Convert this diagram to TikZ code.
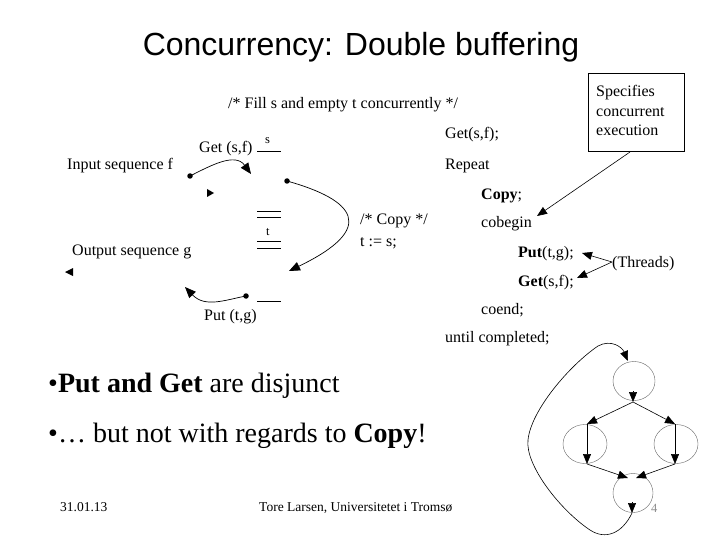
\documentclass[tikz,border=0pt]{standalone}
\usepackage{fontspec}
\setmainfont{Liberation Serif}
\newfontfamily\titlefont{Liberation Sans}
\usetikzlibrary{arrows.meta,shapes.geometric}
\begin{document}
\begin{tikzpicture}[x=1pt,y=-1pt,
  txt/.style={anchor=base west,inner sep=0pt,font=\fontsize{16}{19}\selectfont},
  small/.style={anchor=base west,inner sep=0pt,font=\fontsize{12.5}{15}\selectfont},
  big/.style={anchor=base west,inner sep=0pt,font=\fontsize{28}{32}\selectfont},
  foot/.style={anchor=base west,inner sep=0pt,font=\fontsize{13.5}{16}\selectfont},
  arr/.style={-{Triangle[length=11pt,width=9pt]},line width=0.7pt},
  sarr/.style={-{Triangle[length=10pt,width=8pt]},line width=0.6pt},
  buf/.style={line width=0.8pt},
  blob/.style={circle,fill=black,inner sep=0pt,minimum size=5.5pt},
  proc/.style={ellipse,draw=black!60,line width=0.4pt}
]
\useasboundingbox (0,0) rectangle (720,540);
% title
\node[anchor=base,inner sep=0pt,font=\titlefont\fontsize{32}{36}\selectfont] (title) at (361,56) {Concurrency: Double buffering};

% left diagram texts
\node[txt] (fill) at (228,109) {/* Fill s and empty t concurrently */};
\node[txt] (getl) at (199,153) {Get (s,f)};
\node[small] (slab) at (265,144) {s};
\node[txt] (inp) at (67,170) {Input sequence f};
\node[txt] (copyc) at (360,225) {/* Copy */};
\node[txt] (tass) at (360,246) {t := s;};
\node[small] (tlab) at (266,236) {t};
\node[txt] (outp) at (72,255) {Output sequence g};
\node[txt] (putl) at (204,320) {Put (t,g)};

% buffers
\draw[buf] (257,151) -- (281,151);
\draw[buf] (257,211) -- (281,211);
\draw[buf] (257,217) -- (281,217);
\draw[buf] (257,241) -- (281,241);
\draw[buf] (257,248) -- (281,248);
\draw[buf] (257,301) -- (281,301);

% connectors
\node[blob] (d1) at (190,176) {};
\coordinate (e1) at (251,174);
\draw[arr] (d1.center) .. controls (210,166) and (235,152) .. (e1);
\node[blob] (d2) at (287,181) {};
\coordinate (e2) at (289,271);
\draw[arr] (d2.center) .. controls (355,200) and (378,228) .. (e2);
\node[blob] (d3) at (246,296) {};
\coordinate (e3) at (185,287);
\draw[arr] (d3.center) .. controls (225,300) and (205,308) .. (e3);
\fill (207,189) -- (214,193) -- (207,197) -- cycle;
\fill (73,268) -- (65,272) -- (73,276) -- cycle;

% code
\node[txt] (c1) at (445,139) {Get(s,f);};
\node[txt] (c2) at (445,170) {Repeat};
\node[txt] (c3) at (481,200) {\textbf{Copy};};
\node[txt] (c4) at (481,227) {cobegin};
\node[txt] (c5) at (518,257) {\textbf{Put}(t,g);};
\node[txt] (c6) at (518,286) {\textbf{Get}(s,f);};
\node[txt] (c7) at (481,314) {coend;};
\node[txt] (c8) at (445,342) {until completed;};

% specifies box
\node[draw,line width=0.8pt,minimum width=96pt,minimum height=78pt,inner sep=0pt] (spec) at (636,112) {};
\node[txt] (st1) at (596,97) {Specifies};
\node[txt] (st2) at (596,117) {concurrent};
\node[txt] (st3) at (596,136) {execution};
\coordinate (sp0) at (630,152);
\coordinate (sp1) at (537,216);
\draw[sarr] (sp0) -- (sp1);

% threads
\node[txt] (thr) at (612,267) {(Threads)};
\coordinate (th0) at (612,262);
\coordinate (th1) at (582,253);
\coordinate (th2) at (577,278);
\draw[sarr] (th0) -- (th1);
\draw[sarr] (th0) -- (th2);

% bullets
\node[big] (b1) at (48,392) {•\textbf{Put and Get} are disjunct};
\node[big] (b2) at (48,442) {•… but not with regards to \textbf{Copy}!};

% footer
\node[foot] (date) at (60,511) {31.01.13};
\node[foot] (auth) at (259,511) {Tore Larsen, Universitetet i Tromsø};
\node[anchor=base west,inner sep=0pt,font=\fontsize{12.5}{14}\selectfont,text=black!45] (pg) at (651,512) {4};

% process graph
\node[proc,minimum width=42pt,minimum height=39pt] (pa) at (634,381) {};
\node[proc,minimum width=44pt,minimum height=39pt] (pb) at (585,444) {};
\node[proc,minimum width=44pt,minimum height=39pt] (pc) at (676,444) {};
\node[proc,minimum width=40pt,minimum height=39pt] (pd) at (633,493) {};
\coordinate (pa1) at (633,391);
\coordinate (pa2) at (633,402);
\draw[sarr] (pa1) -- (pa2);
\coordinate (pb0) at (587,424);
\coordinate (pb1) at (587,464);
\coordinate (pc0) at (675,424);
\coordinate (pc1) at (675,464);
\draw[sarr] (pa2) -- (pb0);
\draw[sarr] (pa2) -- (pc0);
\draw[sarr] (pb0) -- (pb1);
\draw[sarr] (pc0) -- (pc1);
\coordinate (pd0) at (628,478);
\coordinate (pd1) at (636,478);
\draw[sarr] (pb1) -- (pd0);
\draw[sarr] (pc1) -- (pd1);
\coordinate (pd2) at (632,502);
\coordinate (pd3) at (632,513);
\draw[sarr] (pd2) -- (pd3);
\coordinate (pa0) at (628,361);
\draw[sarr] (pd3) .. controls (622,534) and (605,540) .. (590,530) .. controls (560,510) and (525,465) .. (528,440) .. controls (531,410) and (570,365) .. (598,346) .. controls (611,339) and (622,347) .. (pa0);
\end{tikzpicture}
\end{document}
